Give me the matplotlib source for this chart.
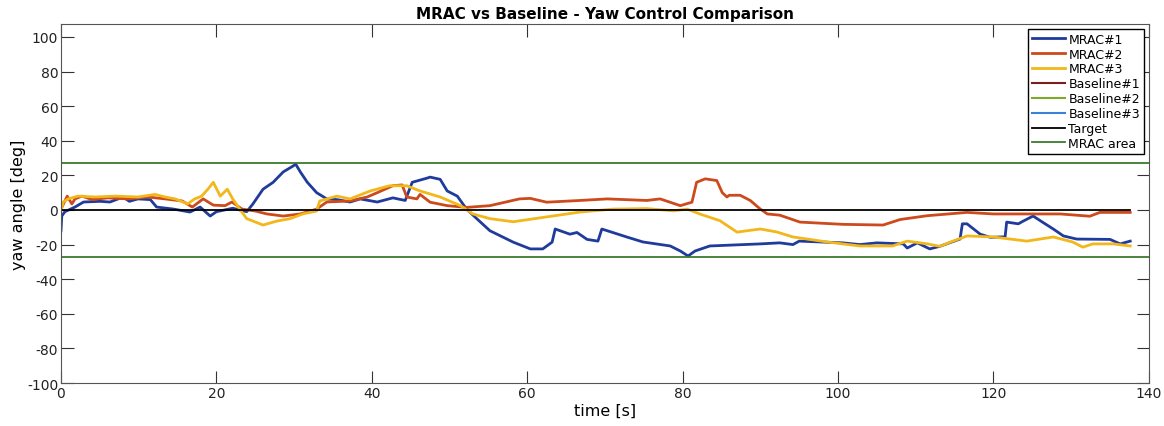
import numpy as np
import matplotlib.pyplot as plt

plt.rcParams["axes.unicode_minus"] = False

# ============================
# DATA
# ============================

t1 = [0, 0.1, 0.5, 1.8, 2.9, 5.0, 6.3, 8.0, 8.8, 9.9, 11.5, 12.3, 14.5, 16.6, 17.9,
      19.2, 20.0, 22.1, 23.9, 24.7, 26.0, 27.3, 28.6, 29.9, 30.2, 30.8, 31.7, 32.9,
      34.2, 35.5, 37.2, 38.5, 40.7, 42.7, 44.3, 45.2, 47.1, 47.5, 48.8, 49.7, 51.0,
      52.2, 53.5, 55.2, 58.2, 60.4, 62.0, 63.2, 63.6, 65.5, 66.4, 67.7, 69.1, 69.6,
      70.3, 72.8, 74.9, 78.4, 79.7, 80.7, 81.6, 83.5, 90.0, 92.5, 94.2, 95.0, 100.6,
      102.8, 105.0, 108.4, 108.9, 110.2, 111.8, 113.1, 115.7, 116.0, 116.6, 118.3,
      119.6, 121.5, 121.7, 123.2, 123.8, 125.1, 126.3, 127.7, 129.0, 130.7, 135.0,
      136.3, 137.6]
mrac1 = [-12, -3.5, -1, 1.7, 4.6, 5, 4.6, 7.5, 5, 6.4, 6, 1.7, 0.5, -1.2, 1.7,
         -3.5, -1, 1, -1, 3.5, 12, 16, 22, 25.5, 26.5, 22, 16, 10,
         6.4, 6, 4.6, 6.4, 4.6, 7, 5.5, 16, 18.4, 19, 17.7, 11, 8,
         0.5, -5, -12, -18.6, -22.5, -22.5, -18.6, -11, -14, -13, -17, -18, -11,
         -12, -15.6, -18.5, -20.8, -23.7, -26.6, -23.7, -20.8, -19.6, -19, -20, -18, -19,
         -20, -19, -19.6, -22, -19, -22.5, -21, -16.8, -8, -8, -14,
         -15.8, -15.5, -7, -8, -6.5, -3.5, -7, -11, -15, -16.8, -17,
         -19.6, -18]

t2 = [0, 0.8, 1.4, 1.8, 2.7, 4.0, 6.0, 8.6, 11.2, 13.4, 15.6, 16.9, 18.3, 19.6,
      21.1, 22.0, 23.3, 25.0, 26.5, 28.6, 30.8, 32.9, 34.2, 37.2, 39.4, 40.7, 42.7,
      43.9, 44.5, 45.8, 46.2, 47.5, 49.7, 52.2, 55.2, 59.0, 60.4, 62.5, 66.8, 70.3,
      75.4, 77.1, 79.7, 81.2, 81.8, 82.9, 84.4, 85.1, 85.7, 86.0, 87.4, 88.7, 90.0,
      90.9, 92.5, 95.1, 100.6, 105.8, 108.0, 111.5, 116.6, 120.0, 128.6, 132.4, 133.7,
      137.6]
mrac2 = [0.5, 8, 3.5, 6.4, 8, 6, 7, 6.4, 7.5, 6.4, 5.2, 1.7, 6.4, 2.8,
         2.5, 4.6, 0.5, -0.6, -2.3, -3.5, -2.3, 0.5, 4.6, 5.2, 7.5, 10, 14,
         14.5, 7.5, 6.4, 9, 4.5, 2.5, 1.5, 2.5, 6.4, 6.7, 4.5, 5.5, 6.4,
         5.5, 6.4, 2.5, 4.5, 16, 18, 17, 10, 7.5, 8.5, 8.5, 5.5, 0.5,
         -2.3, -3, -7, -8.3, -8.7, -5.5, -3.3, -1.4, -2.3, -2.3, -3.6, -1.4,
         -1.4]

t3 = [0, 0.3, 0.9, 2.2, 4.4, 7.0, 9.9, 12.1, 13.4, 14.7, 16.3, 17.2, 18.1, 18.9,
      19.6, 20.5, 21.4, 22.1, 23.0, 23.9, 26.0, 27.8, 29.5, 31.1, 32.9, 33.3, 35.5,
      37.2, 39.8, 42.3, 44.5, 46.2, 48.8, 51.4, 53.0, 55.2, 58.2, 62.5, 66.8, 71.0,
      75.4, 78.8, 80.6, 82.2, 84.8, 87.0, 88.3, 90.0, 92.1, 94.2, 98.6, 102.8, 107.0,
      108.9, 111.5, 113.1, 114.8, 116.6, 120.0, 124.3, 127.7, 130.2, 131.5, 132.8,
      135.4, 137.6]
mrac3 = [-0.5, 4.6, 6.4, 8, 7.5, 8, 7.5, 9, 7.5, 6.4, 3.5, 6.4, 8, 12,
         16, 8, 12, 6.4, 0.5, -5, -8.7, -6.4, -5, -2.3, -0.6, 5.2, 8,
         6.4, 11, 14, 14, 11, 7.5, 2.5, -2.3, -5, -6.8, -4, -1.2, 0.5,
         0.8, -0.5, 0.5, -2.3, -6.2, -12.8, -12, -11, -12.7, -15.6, -18.5, -20.8, -20.8,
         -18, -19.6, -21, -18, -15, -15.6, -18, -15.6, -18.5, -21.5, -19.6,
         -19.6, -20.8]

target_t = [0, 137.6]
target = [0, 0]
mrac_area = 27

series = [
    ("MRAC#1", t1, mrac1, "#1f3b9b"),
    ("MRAC#2", t2, mrac2, "#cc4a1c"),
    ("MRAC#3", t3, mrac3, "#f2b71a"),
]
baselines = [
    ("Baseline#1", "#7b1e1e"),
    ("Baseline#2", "#7da82a"),
    ("Baseline#3", "#3c82d4"),
]

# ============================
# PLOT
# ============================

fig = plt.figure(figsize=(11.64, 4.27), dpi=100)
ax = fig.add_axes([0.0524, 0.1007, 0.9346, 0.8408])

for name, t, v, c in series:
    ax.plot(t, v, color=c, linewidth=2, label=name)

# baseline runs only appear in the legend
for name, c in baselines:
    ax.plot([], [], color=c, linewidth=1.5, label=name)

ax.plot(target_t, target, color="black", linewidth=1.3, label="Target")
ax.axhline(mrac_area, color="#3d7a2e", linewidth=1.3, label="MRAC area")
ax.axhline(-mrac_area, color="#3d7a2e", linewidth=1.3)

ax.set_xlim(0, 140)
ax.set_ylim(-100, 107.5)
ax.set_xticks(np.arange(0, 141, 20))
ax.set_yticks(np.arange(-100, 101, 20))
ax.tick_params(direction="in", length=9, top=True, right=True, labelsize=10,
               colors="#333333", labelcolor="#222222", pad=2)
for s in ax.spines.values():
    s.set_color("#555555")

ax.set_title("MRAC vs Baseline - Yaw Control Comparison", fontsize=11,
             fontweight="bold", pad=4)
ax.set_xlabel("time [s]", fontsize=11.5, labelpad=2)
ax.set_ylabel("yaw angle [deg]", fontsize=11.5, labelpad=1)

leg = ax.legend(loc="upper right", fontsize=9, fancybox=False, framealpha=1,
                edgecolor="black", handlelength=2.6, handletextpad=0.3,
                labelspacing=0.15, borderpad=0.3, borderaxespad=0.4)
leg.get_frame().set_linewidth(1.0)

fig.savefig("out.png", dpi=100)
